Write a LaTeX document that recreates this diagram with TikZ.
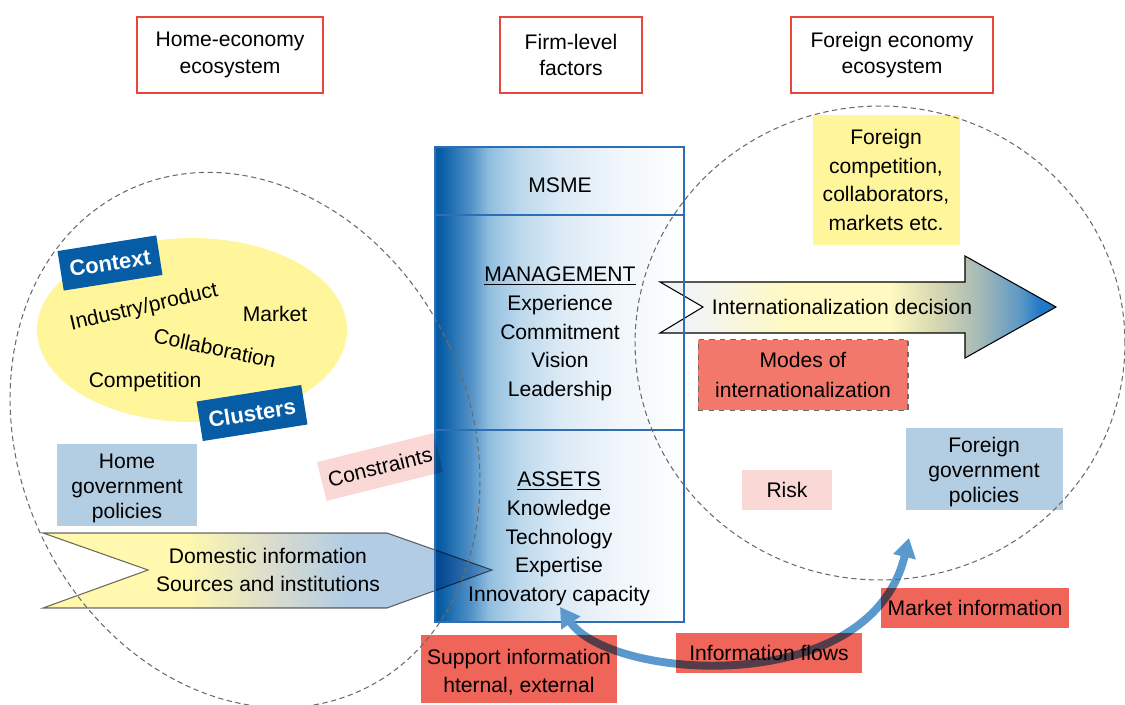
\documentclass[tikz,border=0pt]{standalone}
\usepackage{fontspec}
\setmainfont{Liberation Sans}
\usepackage{xcolor}
\usepackage{tikz}
\usetikzlibrary{
  arrows.meta,
  shapes,
  shapes.geometric,
  positioning,
  calc,
  backgrounds
}
\definecolor{ieRed}{HTML}{E8463B}
\definecolor{ieSalmon}{HTML}{F0655A}
\definecolor{ieModes}{HTML}{F2786C}
\definecolor{iePink}{HTML}{FAD8D5}
\definecolor{ieSky}{HTML}{B3CDE3}
\definecolor{ieYellow}{HTML}{FFF69C}
\definecolor{ieNavy}{HTML}{065CA5}
\definecolor{ieFrame}{HTML}{2D6FB5}
\definecolor{ieFlow}{HTML}{5A99CE}
\definecolor{ieMute}{HTML}{6B6B6B}
\definecolor{msmeA}{HTML}{4F90C6}
\definecolor{msmeB}{HTML}{92BFDF}
\definecolor{msmeC}{HTML}{BCD8EC}
\definecolor{msmeD}{HTML}{DAE9F5}
\definecolor{msmeE}{HTML}{F0F6FB}
\definecolor{domY}{HTML}{FFF8AE}
\definecolor{domM}{HTML}{DCDDCC}
\definecolor{domB}{HTML}{B1CCE3}
\definecolor{intW}{HTML}{F1F4F7}
\definecolor{intY}{HTML}{FFF9C2}
\definecolor{intK}{HTML}{D5D6B0}
\definecolor{intG}{HTML}{A9BCB6}
\definecolor{intL}{HTML}{5D98C6}
\definecolor{intB}{HTML}{1F78C8}
\pgfdeclarehorizontalshading{msmefade}{100bp}{color(0bp)=(ieNavy); color(26bp)=(ieNavy);
  color(32bp)=(msmeA); color(36bp)=(msmeB); color(42bp)=(msmeC); color(50bp)=(msmeD);
  color(62bp)=(msmeE); color(75bp)=(white); color(100bp)=(white)}
\pgfdeclarehorizontalshading{domfade}{100bp}{color(0bp)=(domY); color(41bp)=(domY);
  color(50bp)=(domM); color(59bp)=(domB); color(100bp)=(domB)}
\pgfdeclarehorizontalshading{intlfade}{100bp}{color(0bp)=(intW); color(29bp)=(intW);
  color(41bp)=(intY); color(54bp)=(intY); color(60bp)=(intK); color(65bp)=(intG);
  color(70.5bp)=(intL); color(73bp)=(intB); color(100bp)=(intB)}
\newcommand\ielift{\rule{0pt}{12.4pt}}
\tikzset{
  ienode/.style={align=center, inner sep=0pt, font=\fontsize{12}{15}\selectfont},
  ecobox/.style={ienode, draw=ieRed, line width=1.1pt, fill=white, minimum height=1.52cm,
    font=\fontsize{12}{15.3}\selectfont},
  colitem/.style={ienode, font=\fontsize{12}{16.4}\selectfont},
  ctxword/.style={ienode},
  tagbox/.style={ienode, fill=ieNavy, text=white, minimum height=0.8cm,
    font=\fontsize{12.5}{15}\selectfont\bfseries},
  skybox/.style={ienode, fill=ieSky, minimum height=1.66cm, font=\fontsize{12}{14.2}\selectfont},
  pinkbox/.style={ienode, fill=iePink, minimum height=0.8cm},
  yellowbox/.style={ienode, fill=ieYellow, font=\fontsize{12}{16.4}\selectfont},
  modesbox/.style={ienode, fill=ieModes, draw=ieMute, dashed, line width=0.6pt,
    font=\fontsize{12}{17}\selectfont},
  flagbox/.style={ienode, fill=ieSalmon, minimum height=0.8cm, font=\fontsize{12}{16.4}\selectfont},
  ecoring/.style={draw=ieMute, dash pattern=on 3pt off 2pt, line width=0.6pt},
  msmeline/.style={draw=ieFrame, line width=0.7pt},
  infoflow/.style={draw=ieFlow, line width=4.5pt,
    {Triangle[length=11pt, width=12.5pt]}-{Triangle[length=11pt, width=12.5pt]}}
}

\begin{document}
\begin{tikzpicture}[x=0.02cm, y=-0.02cm]
  \useasboundingbox (0,0) rectangle (1125,705);
  \foreach \nm/\x/\w/\txt in {
    home/230/3.72/{Home-economy\\ecosystem},
    firm/571/2.84/{Firm-level\\factors},
    foreign/892/4.04/{Foreign economy\\ecosystem}}{
    \node[ecobox, minimum width=\w cm] (\nm) at (\x,55) {\txt};
  }
  % firm-level column
  \shade[shading=msmefade] (435,147) rectangle (684,622);
  \node[colitem] (msme) at (560,185) {MSME};
  \node[colitem] (mgmt) at (560,334)
    {\underline{MANAGEMENT}\\Experience\\Commitment\\Vision\\Leadership};
  \node[colitem] (assets) at (559,539)
    {\underline{ASSETS}\\Knowledge\\Technology\\Expertise\\Innovatory capacity};
  % home economy
  \node[ellipse, fill=ieYellow, minimum width=6.2cm, minimum height=3.68cm] (ctxcloud) at (192,330) {};
  \node[ctxword, rotate=13] (indprod) at (144,308) {Industry/product};
  \node[ctxword] (market) at (275,314) {Market};
  \node[ctxword, rotate=-12] (collab) at (215,348) {Collaboration};
  \node[ctxword] (compet) at (145,382) {Competition};
  \node[skybox, minimum width=2.8cm] (homegov) at (127,485) {\ielift Home\\government\\policies};
  \begin{scope}[blend mode=multiply]
    \shadedraw[shading=domfade, draw=ieMute, line width=0.6pt]
      (43,533) -- (387,533) -- (492,570) -- (387,608) -- (43,608) -- (148,570) -- cycle;
    \node[colitem, font=\fontsize{12}{15.9}\selectfont] (domestic) at (268,570)
      {Domestic information\\Sources and institutions};
  \end{scope}
  % foreign economy
  \shadedraw[shading=intlfade, draw=black, line width=0.6pt]
    (660,282) -- (965,282) -- (965,256) -- (1056,307) -- (965,358) -- (965,333) -- (660,333) -- (703,307) -- cycle;
  \node[ienode] (intl) at (842,307) {Internationalization decision};
  \draw[msmeline] (435,147) rectangle (684,622) (435,215) -- (684,215) (435,430) -- (684,430);
  \begin{scope}[blend mode=multiply]
    \node[pinkbox, rotate=14, minimum width=2.4cm] (constr) at (380,467) {Constraints};
  \end{scope}
  \node[yellowbox, minimum width=2.94cm, minimum height=2.6cm] (forcomp) at (886,180)
    {Foreign\\competition,\\collaborators,\\markets etc.};
  \node[modesbox, minimum width=4.2cm, minimum height=1.42cm] (modes) at (803,375)
    {Modes of\\internationalization};
  \node[pinkbox, minimum width=1.8cm] (risk) at (787,490) {Risk};
  \node[skybox, minimum width=3.14cm] (forgov) at (984,469) {\ielift Foreign\\government\\policies};
  % information flows
  \coordinate (flowin) at (560,607);
  \coordinate (flowout) at (909,538);
  \draw[infoflow] (flowin) .. controls (610,680) and (870,700) .. (flowout);
  \begin{scope}[blend mode=multiply]
    \node[flagbox, minimum width=3.92cm, minimum height=1.36cm] (support) at (519,669)
      {\ielift Support information\\hternal, external};
    \node[flagbox, minimum width=3.72cm] (infoflows) at (769,653) {Information flows};
    \node[flagbox, minimum width=3.76cm] (marketinfo) at (975,608) {Market information};
  \end{scope}
  \draw[ecoring] (245,440) ellipse [x radius=4.5cm, y radius=5.52cm, rotate=25];
  \draw[ecoring] (880,343) ellipse [x radius=4.9cm, y radius=4.74cm];
  \node[tagbox, rotate=9, minimum width=2cm] (context) at (110,263) {Context};
  \node[tagbox, rotate=9, minimum width=2.12cm] (clusters) at (252,413) {Clusters};
\end{tikzpicture}
\end{document}
